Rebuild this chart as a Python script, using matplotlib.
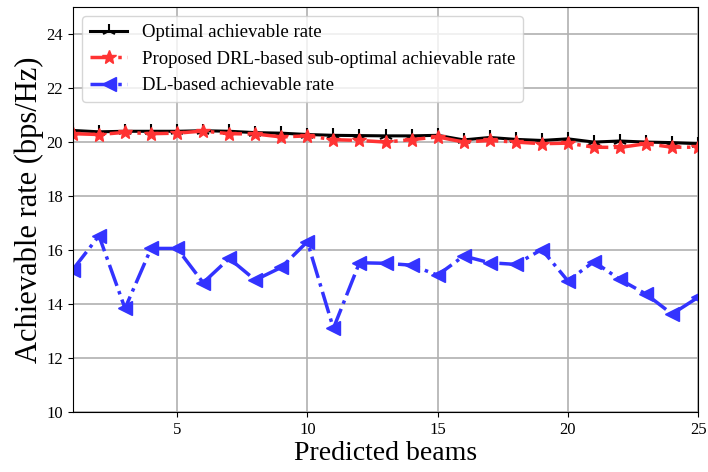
import numpy as np
import matplotlib.pyplot as plt

plt.rcParams['font.family'] = ['Liberation Serif', 'DejaVu Serif']
plt.rcParams['mathtext.fontset'] = 'stix'

# ---- data ----
beams = np.arange(1, 26)
optimal = [20.43, 20.38, 20.40, 20.40, 20.40, 20.42, 20.40, 20.35, 20.33, 20.28,
           20.25, 20.24, 20.23, 20.23, 20.25, 20.08, 20.17, 20.10, 20.06, 20.12,
           20.00, 20.04, 20.00, 19.98, 19.94]
drl = [20.31, 20.28, 20.36, 20.31, 20.33, 20.41, 20.31, 20.30, 20.19, 20.23,
       20.09, 20.06, 20.00, 20.09, 20.19, 20.00, 20.06, 20.00, 19.94, 19.96,
       19.81, 19.80, 19.94, 19.81, 19.81]
dl = [15.28, 16.53, 13.84, 16.06, 16.06, 14.79, 15.69, 14.89, 15.36, 16.31,
      13.10, 15.53, 15.51, 15.44, 15.07, 15.78, 15.53, 15.47, 16.02, 14.86,
      15.57, 14.91, 14.37, 13.63, 14.25]
labels = ['Optimal achievable rate',
          'Proposed DRL-based sub-optimal achievable rate',
          'DL-based achievable rate']

fig = plt.figure(figsize=(7.08, 4.72), dpi=100)
ax = fig.add_axes([0.103, 0.127, 0.883, 0.858])

ax.plot(beams, optimal, color='black', linestyle='-', linewidth=2.2,
        marker='2', markersize=10, markeredgewidth=1.5, label=labels[0])
ax.plot(beams, drl, color='#ff3333', linestyle='-.', linewidth=2.5,
        marker='*', markersize=10, label=labels[1])
ax.plot(beams, dl, color='#3333ff', linestyle='-.', linewidth=2.5,
        marker='<', markersize=10, label=labels[2])

ax.set_xlim(1, 25)
ax.set_ylim(10, 25)
ax.set_xticks([5, 10, 15, 20, 25])
ax.set_yticks(np.arange(10, 25, 2))
ax.tick_params(labelsize=12)
ax.grid(True, color='#b0b0b0', linewidth=1.2)
ax.set_axisbelow(True)

ax.set_xlabel('Predicted beams', fontsize=20, labelpad=2)
ax.set_ylabel('Achievable rate (bps/Hz)', fontsize=22, labelpad=2)
ax.legend(loc='upper left', fontsize=13.5, framealpha=0.8,
          handlelength=2.0, handletextpad=0.8)

fig.savefig('out.png', dpi=100)
